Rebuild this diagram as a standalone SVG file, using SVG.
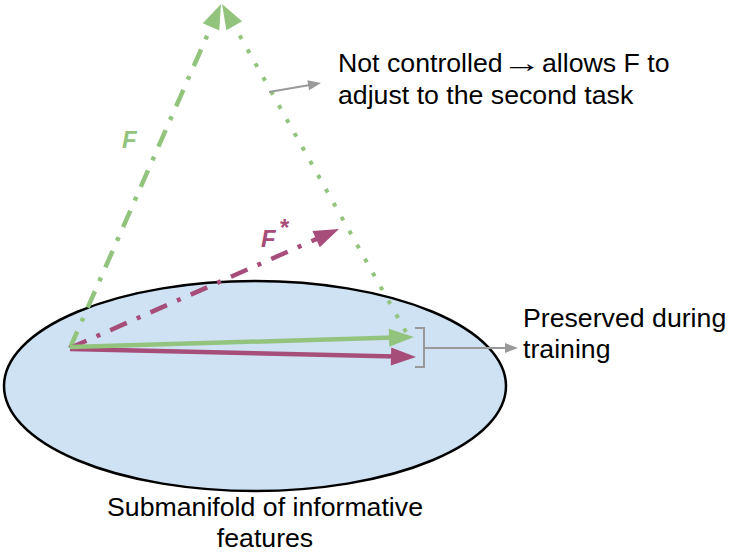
<svg xmlns="http://www.w3.org/2000/svg" width="730" height="554" viewBox="0 0 730 554">
<style>
.t{font-family:"Liberation Sans",Arial,sans-serif;font-size:26.7px;fill:#000}
.lbl{font-family:"Liberation Sans",Arial,sans-serif;font-weight:bold;font-style:italic;font-size:24px}
.g{stroke:#93c47d;fill:none}
.p{stroke:#a64d79;fill:none}
.gray{stroke:#999999;fill:none;stroke-width:2}
.dd{stroke-width:4.5;stroke-dasharray:18 11 4 11}
</style>
<defs>
<marker id="hg" markerUnits="userSpaceOnUse" markerWidth="26" markerHeight="20" refX="5" refY="9" orient="auto" overflow="visible"><path d="M0,0 L25,9 L0,18 z" fill="#93c47d"/></marker>
<marker id="hp" markerUnits="userSpaceOnUse" markerWidth="26" markerHeight="20" refX="5" refY="9" orient="auto" overflow="visible"><path d="M0,0 L25,9 L0,18 z" fill="#a64d79"/></marker>
<marker id="hgr" markerUnits="userSpaceOnUse" markerWidth="14" markerHeight="10" refX="3" refY="5" orient="auto" overflow="visible"><path d="M0,0 L13,5 L0,10 z" fill="#999999"/></marker>
</defs>
<g id="manifold">
<ellipse cx="255" cy="386" rx="251" ry="105" fill="#cfe2f3" stroke="#000" stroke-width="2.5"/>
</g>
<g id="connectors">
<line class="g" x1="406" y1="332" x2="231.8" y2="21.4" stroke-width="4" stroke-dasharray="4 12" marker-end="url(#hg)"/>
<line class="g dd" x1="70" y1="348" x2="213" y2="22.3" marker-end="url(#hg)"/>
<line class="p dd" x1="70" y1="348" x2="320.7" y2="237.1" marker-end="url(#hp)"/>
<line class="p" x1="70" y1="349" x2="396" y2="356.5" stroke-width="4.5" marker-end="url(#hp)"/>
<line class="g" x1="70" y1="347" x2="394" y2="337.6" stroke-width="4.5" marker-end="url(#hg)"/>
<line class="gray" x1="269" y1="92" x2="311.2" y2="84.7" marker-end="url(#hgr)"/>
<path class="gray" d="M415,328 H424 V367 H415" stroke-width="2.5"/>
<line class="gray" x1="424" y1="348" x2="433" y2="348" stroke-width="3"/>
<line class="gray" x1="424" y1="348" x2="508" y2="348" marker-end="url(#hgr)"/>
</g>
<g id="label-F">
<text class="lbl" x="122" y="148" fill="#93c47d">F</text>
</g>
<g id="label-Fstar">
<text class="lbl" x="261" y="247" fill="#a64d79">F</text>
<text class="lbl" x="279" y="236" fill="#a64d79" font-size="13" font-weight="normal">*</text>
</g>
<g id="note-not-controlled">
<text class="t"><tspan x="338" y="72">Not controlled</tspan><tspan x="542" y="72">allows F to</tspan><tspan x="338" y="104">adjust to the second task</tspan></text>
<text class="t" transform="translate(502,72) scale(1.5,1)">→</text>
</g>
<g id="note-preserved">
<text class="t"><tspan x="523" y="327">Preserved during</tspan><tspan x="523" y="358">training</tspan></text>
</g>
<g id="caption">
<text class="t" text-anchor="middle"><tspan x="265" y="516">Submanifold of informative</tspan><tspan x="265" y="547">features</tspan></text>
</g>
</svg>
